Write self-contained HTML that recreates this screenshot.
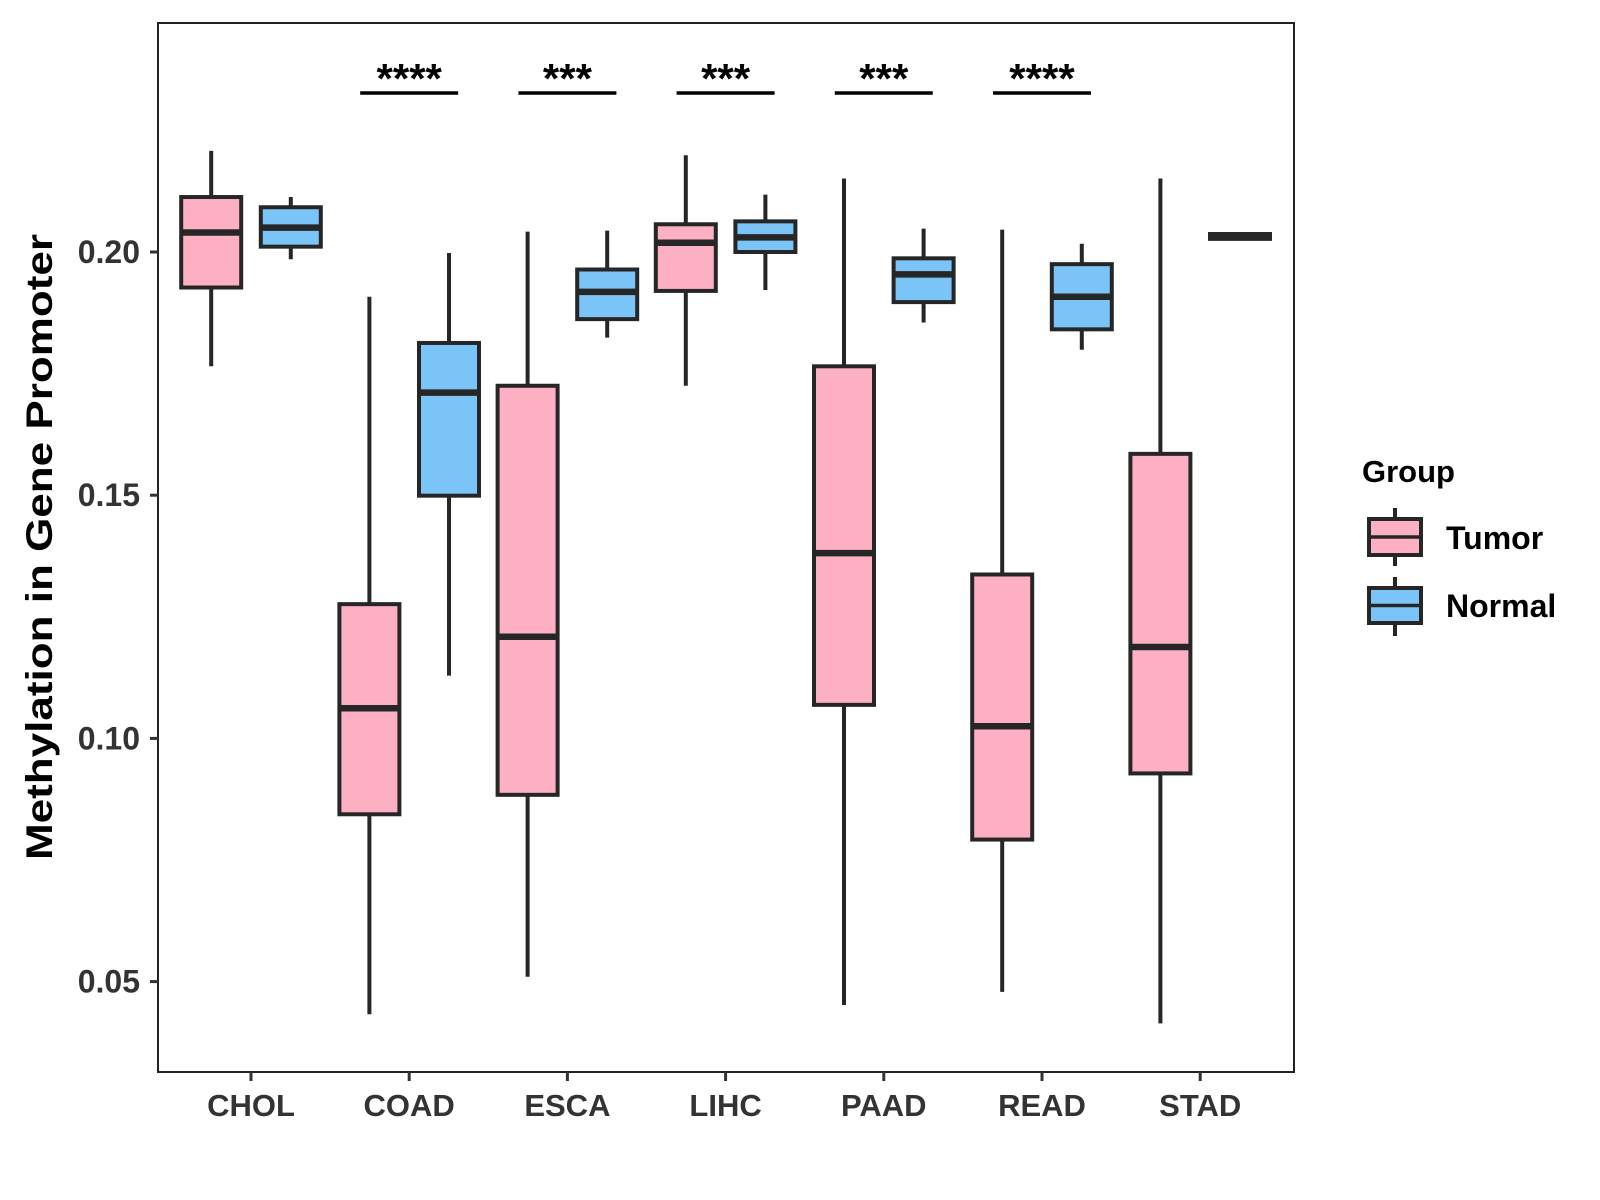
<!DOCTYPE html>
<html><head><meta charset="utf-8"><style>
html,body{margin:0;padding:0;background:#fff;width:1600px;height:1200px;overflow:hidden}
svg text{font-family:"Liberation Sans",Arial,sans-serif;font-weight:bold}
</style></head><body>
<svg id="chart" width="1600" height="1200" viewBox="0 0 1600 1200" xmlns="http://www.w3.org/2000/svg">
<rect width="1600" height="1200" fill="#fff"/>
<g id="plot"></g>
</svg>
<script>
const categories = ["CHOL","COAD","ESCA","LIHC","PAAD","READ","STAD"];
const groups = ["Tumor","Normal"];
// [lowerWhisker, q1, median, q3, upperWhisker]
const tumorStats = [
 [0.1765,0.1927,0.2040,0.2113,0.2208],
 [0.0433,0.0844,0.1062,0.1276,0.1908],
 [0.0510,0.0884,0.1209,0.1725,0.2042],
 [0.1725,0.1920,0.2019,0.2057,0.2199],
 [0.0452,0.1069,0.1381,0.1765,0.2151],
 [0.0479,0.0792,0.1025,0.1337,0.2046],
 [0.0414,0.0928,0.1188,0.1585,0.2151]
];
const normalStats = [
 [0.1985,0.2011,0.2050,0.2092,0.2113],
 [0.1129,0.1499,0.1711,0.1813,0.1998],
 [0.1824,0.1862,0.1918,0.1964,0.2044],
 [0.1922,0.2000,0.2030,0.2063,0.2118],
 [0.1855,0.1897,0.1954,0.1987,0.2048],
 [0.1799,0.1841,0.1908,0.1975,0.2017],
 [0.2025,0.2027,0.2032,0.2037,0.2040]
];
const yTicks = [0.05,0.10,0.15,0.20];
const yTickLabels = ["0.05","0.10","0.15","0.20"];
const sigLabels = ["","****","***","***","***","****",""];

const NS="http://www.w3.org/2000/svg";
const g=document.getElementById('plot');
const P={l:158,r:1294,t:23,b:1072};
const yScale=v=>981.6-(v-0.05)/0.05*243.2;
const xScale=i=>251+i*158.2;
const DODGE=39.8, BW=60, LC="#262626";
const colors={Tumor:"#FDB0C3",Normal:"#7BC4F8"};
function mk(tag,attrs,parent){const e=document.createElementNS(NS,tag);for(const k in attrs)e.setAttribute(k,attrs[k]);(parent||g).appendChild(e);return e;}

let frame=mk('rect',{x:P.l,y:P.t,width:P.r-P.l,height:P.b-P.t,fill:"none",stroke:"#222",'stroke-width':2});



yTicks.forEach((v,i)=>{
 const y=yScale(v);
 const t=mk('line',{x1:P.l-8,x2:P.l,y1:y,y2:y,stroke:"#333",'stroke-width':3});
 
 
 const l=mk('text',{x:P.l-18,y:y+11,'text-anchor':'end','font-size':32,fill:"#333"});
 l.textContent=yTickLabels[i];
 
 
});
categories.forEach((c,i)=>{
 const x=xScale(i);
 const t=mk('line',{x1:x,x2:x,y1:P.b,y2:P.b+9,stroke:"#333",'stroke-width':3});
 
 
 const l=mk('text',{x:x,y:1116,'text-anchor':'middle','font-size':31,fill:"#333"});
 l.textContent=c;
 
 
});

function drawBox(s,cx,fill,name){
 const bg=mk('g',{});
 
 
 mk('line',{x1:cx,x2:cx,y1:yScale(s[0]),y2:yScale(s[4]),stroke:LC,'stroke-width':4},bg);
 const y3=yScale(s[3]),y1=yScale(s[1]);
 mk('rect',{x:cx-BW/2,y:y3,width:BW,height:Math.max(y1-y3,1),fill:fill,stroke:LC,'stroke-width':4},bg);
 mk('line',{x1:cx-BW/2,x2:cx+BW/2,y1:yScale(s[2]),y2:yScale(s[2]),stroke:LC,'stroke-width':6.5},bg);
}
categories.forEach((c,i)=>{
 drawBox(tumorStats[i],xScale(i)-DODGE,colors.Tumor,'box-tumor-'+c.toLowerCase());
 drawBox(normalStats[i],xScale(i)+DODGE,colors.Normal,'box-normal-'+c.toLowerCase());
 if(sigLabels[i]){
  const b=mk('line',{x1:xScale(i)-49,x2:xScale(i)+49,y1:93,y2:93,stroke:"#000",'stroke-width':3.5});
  
  
  const s=mk('text',{x:xScale(i),y:93,'text-anchor':'middle','font-size':42,fill:"#000"});
  s.textContent=sigLabels[i];
  
  
 }
});

const yt=mk('text',{x:0,y:0,transform:'translate(52,547) rotate(-90)','text-anchor':'middle','font-size':37,fill:"#000",textLength:626,lengthAdjust:'spacingAndGlyphs'});
yt.textContent="Methylation in Gene Promoter";



const lt=mk('text',{x:1362,y:482,'font-size':31,fill:"#000"});
lt.textContent="Group";


const keys=[{n:"Tumor",top:519,bot:555,w1:508,w2:566,ty:549},{n:"Normal",top:588,bot:623,w1:577,w2:636,ty:617}];
keys.forEach(k=>{
 const kg=mk('g',{});
 
 
 mk('line',{x1:1395,x2:1395,y1:k.w1,y2:k.w2,stroke:LC,'stroke-width':4},kg);
 mk('rect',{x:1369,y:k.top,width:52,height:k.bot-k.top,fill:colors[k.n],stroke:LC,'stroke-width':4},kg);
 mk('line',{x1:1369,x2:1421,y1:(k.top+k.bot)/2,y2:(k.top+k.bot)/2,stroke:LC,'stroke-width':3.5},kg);
 const t=mk('text',{x:1446,y:k.ty,'font-size':32,fill:"#000"},kg);
 t.textContent=k.n;
});
</script>
</body></html>
